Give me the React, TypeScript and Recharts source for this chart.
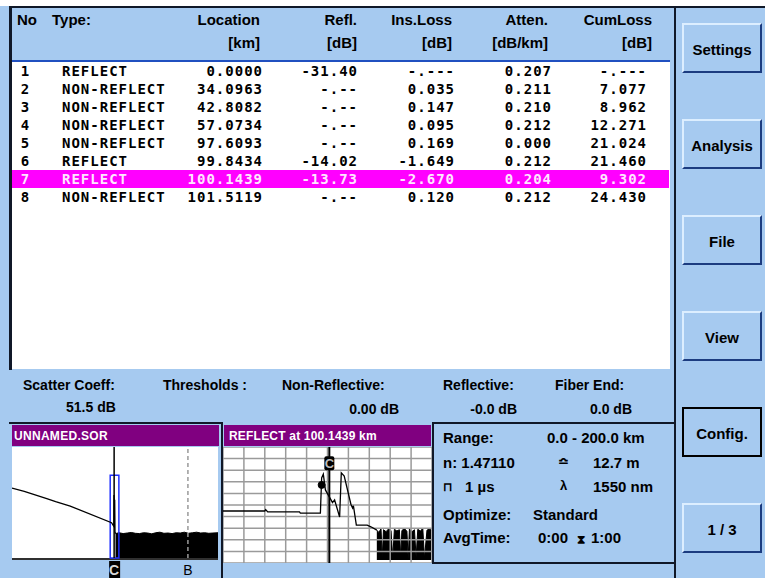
import React from "react";
import {
  Area,
  ComposedChart,
  Line,
  ReferenceArea,
  ReferenceDot,
  ReferenceLine,
  XAxis,
  YAxis,
} from "recharts";

const SKY = "#A6CAF0";
const PURPLE = "#800080";
const UI_FONT = "'Liberation Sans', Arial, sans-serif";
const MONO_FONT = "'DejaVu Sans Mono', monospace";

// event table
const headerTop = ["Location", "Refl.", "Ins.Loss", "Atten.", "CumLoss"];
const headerUnits = ["[km]", "[dB]", "[dB]", "[dB/km]", "[dB]"];
const eventNo = ["1", "2", "3", "4", "5", "6", "7", "8"];
const eventType = [
  "REFLECT",
  "NON-REFLECT",
  "NON-REFLECT",
  "NON-REFLECT",
  "NON-REFLECT",
  "REFLECT",
  "REFLECT",
  "NON-REFLECT",
];
const locationKm = ["0.0000", "34.0963", "42.8082", "57.0734", "97.6093", "99.8434", "100.1439", "101.5119"];
const reflDb = ["-31.40", "-.--", "-.--", "-.--", "-.--", "-14.02", "-13.73", "-.--"];
const insLossDb = ["-.---", "0.035", "0.147", "0.095", "0.169", "-1.649", "-2.670", "0.120"];
const attenDbKm = ["0.207", "0.211", "0.210", "0.212", "0.000", "0.212", "0.204", "0.212"];
const cumLossDb = ["-.---", "7.077", "8.962", "12.271", "21.024", "21.460", "9.302", "24.430"];
const selectedRow = 6;

const buttonLabels = ["Settings", "Analysis", "File", "View", "Config.", "1 / 3"];

// overview trace (0..200 km)
const overviewKm = [0, 12, 34.1, 42.8, 57.1, 97.6, 99.8, 100.0, 100.4, 100.7, 101.0, 101.5];
const overviewDb = [25.2, 24.0, 21.4, 20.3, 18.7, 12.7, 11.4, 22.7, 19.6, 21.0, 9.5, 8.8];
const floorKm = [101.5, 105, 109, 113, 117, 121, 125, 129, 133, 137, 141, 145, 149, 153, 157, 161, 165, 169, 173, 177, 181, 185, 189, 193, 197, 202];
const floorDb = [8.8, 9.1, 8.8, 9.0, 9.2, 8.9, 8.8, 9.1, 9.0, 8.7, 9.1, 9.3, 8.9, 9.0, 8.8, 9.1, 9.0, 9.3, 8.9, 9.1, 9.3, 9.0, 9.1, 8.9, 9.0, 9.1];
const cursorKm = 100.1439;
const markerBKm = 172.5;
const zoomWindowKm = [96.3, 104.8];

// zoomed trace around the selected event
const detailKm = [97.6, 98.6, 98.62, 98.67, 99.43, 99.45, 99.93, 99.96, 100.0, 100.05, 100.18, 100.22, 100.27, 100.39, 100.43, 100.5, 100.66, 100.7, 100.72, 100.79, 101.05, 101.15, 101.28];
const detailDb = [13.45, 13.45, 13.8, 13.2, 13.2, 12.9, 12.9, 22.0, 23.0, 18.9, 16.4, 15.6, 16.3, 11.9, 23.3, 22.5, 15.2, 14.2, 14.8, 9.8, 9.8, 9.3, 8.5];
const noiseKm = [101.28, 101.33, 101.38, 101.41, 101.44, 101.5, 101.56, 101.62, 101.66, 101.7, 101.76, 101.82, 101.85, 101.88, 101.94, 102.0, 102.03, 102.06, 102.12, 102.18, 102.22, 102.26, 102.32, 102.38, 102.42, 102.48, 102.54, 102.58];
const noiseDb = [8.5, 7.9, 8.9, 1.4, 8.6, 8.1, 8.8, 8.4, 1.2, 8.7, 8.3, 8.6, 1.6, 8.4, 8.9, 8.2, 1.1, 8.8, 8.1, 8.6, 1.5, 8.7, 8.3, 8.9, 1.3, 8.5, 8.8, 8.5];
const detailGridKm = [97.6, 98.1, 98.6, 99.1, 99.6, 100.1, 100.6, 101.1, 101.6, 102.1, 102.6];
const detailGridDb = [0, 3, 6, 9, 12, 15, 18, 21, 24, 27, 30];
const firstPeakDot = { km: 99.96, db: 20.2 };
const markerCDb = 25.8;

const overviewData = overviewKm.map((km, i) => ({ km, db: overviewDb[i] }));
const floorData = floorKm.map((km, i) => ({ km, db: floorDb[i] }));
const detailData = detailKm.map((km, i) => ({ km, db: detailDb[i] }));
const noiseData = noiseKm.map((km, i) => ({ km, db: noiseDb[i] }));

type Align = "left" | "right" | "center";

function Label({
  x,
  y,
  text,
  align = "left",
  size = 15,
  color = "#000",
  font = UI_FONT,
  spacing = 0,
}: {
  x: number;
  y: number;
  text: string;
  align?: Align;
  size?: number;
  color?: string;
  font?: string;
  spacing?: number;
}) {
  const w = 300;
  const left = align === "left" ? x : align === "right" ? x - w : x - w / 2;
  return (
    <div
      style={{
        position: "absolute",
        left,
        top: y - size * 0.6,
        width: w,
        height: size * 1.2,
        lineHeight: `${size * 1.2}px`,
        textAlign: align,
        fontSize: size,
        fontFamily: font,
        fontWeight: 700,
        color,
        letterSpacing: spacing,
        whiteSpace: "nowrap",
      }}
    >
      {text}
    </div>
  );
}

function Box({ x, y, w, h, style }: { x: number; y: number; w: number; h: number; style?: React.CSSProperties }) {
  return <div style={{ position: "absolute", left: x, top: y, width: w, height: h, boxSizing: "border-box", ...style }} />;
}

const OverviewTick = (props: any) => {
  const { x, y, payload } = props;
  if (payload.value === cursorKm) {
    return (
      <g>
        <rect x={x - 5} y={y + 3} width={11} height={17} fill="#000" />
        <text x={x} y={y + 17} textAnchor="middle" fontFamily={UI_FONT} fontWeight={700} fontSize={14} fill="#d8d8d8">
          C
        </text>
      </g>
    );
  }
  return (
    <text x={x} y={y + 17} textAnchor="middle" fontFamily={UI_FONT} fontSize={14} fill="#000">
      B
    </text>
  );
};

const MarkerC = (props: any) => {
  const { cx, cy } = props;
  return (
    <g>
      <rect x={cx - 5} y={cy - 7} width={10} height={14} rx={2} fill="#000" />
      <text x={cx} y={cy + 5} textAnchor="middle" fontFamily={UI_FONT} fontWeight={700} fontSize={13} fill="#bbb">
        C
      </text>
    </g>
  );
};

export default function App() {
  const colRight = [263, 358, 455, 552, 647];
  const colValues = [locationKm, reflDb, insLossDb, attenDbKm, cumLossDb];
  const headerRight = [260, 357, 452, 548, 652];

  return (
    <div
      style={{
        position: "absolute",
        left: 0,
        top: 0,
        width: 765,
        height: 578,
        background: SKY,
        overflow: "hidden",
        fontFamily: UI_FONT,
      }}
    >
      {/* top strip and frame */}
      <Box x={0} y={0} w={765} h={6} style={{ background: "#fff" }} />
      <Box x={9} y={6} w={666} h={2} style={{ background: "#101828" }} />
      <Box x={675} y={6} w={90} h={2} style={{ background: "#101828" }} />
      <Box x={9} y={6} w={3} h={364} style={{ background: "#101828" }} />
      <Box x={674} y={6} w={2} h={572} style={{ background: "#101828" }} />

      {/* table header */}
      <Label x={17} y={20} text="No" />
      <Label x={52} y={20} text="Type:" />
      {headerTop.map((t, i) => (
        <Label key={t} x={headerRight[i]} y={20} text={t} align="right" />
      ))}
      {headerUnits.map((t, i) => (
        <Label key={i} x={headerRight[i]} y={43} text={t} align="right" />
      ))}
      <Box x={12} y={60} w={658} h={2} style={{ background: "#2050C0" }} />
      <Box x={12} y={62} w={658} h={307} style={{ background: "#fff" }} />

      {/* table rows */}
      {eventNo.map((no, i) => {
        const y = 71 + 18 * i;
        const sel = i === selectedRow;
        const color = sel ? "#FFE6FF" : "#000";
        return (
          <React.Fragment key={no}>
            {sel && <Box x={12} y={y - 9} w={657} h={18} style={{ background: "#FF00FF" }} />}
            <Label x={25} y={y} text={no} align="center" size={14} font={MONO_FONT} color={color} />
            <Label x={62} y={y} text={eventType[i]} size={14} font={MONO_FONT} color={color} spacing={1.0} />
            {colValues.map((vals, c) => (
              <Label key={c} x={colRight[c]} y={y} text={vals[i]} align="right" size={14} font={MONO_FONT} color={color} spacing={1.0} />
            ))}
          </React.Fragment>
        );
      })}

      {/* thresholds strip */}
      <Label x={23} y={385} text="Scatter Coeff:" size={14} />
      <Label x={66} y={407} text="51.5 dB" size={14} />
      <Label x={163} y={385} text="Thresholds :" size={14} />
      <Label x={282} y={385} text="Non-Reflective:" size={14} />
      <Label x={399} y={409} text="0.00 dB" align="right" size={14} />
      <Label x={443} y={385} text="Reflective:" size={14} />
      <Label x={517} y={409} text="-0.0 dB" align="right" size={14} />
      <Label x={555} y={385} text="Fiber End:" size={14} />
      <Label x={632} y={409} text="0.0 dB" align="right" size={14} />

      {/* overview panel */}
      <Box x={9} y={422} w={214} h={2} style={{ background: "#101828" }} />
      <Box x={221} y={422} w={2} h={156} style={{ background: "#101828" }} />
      <Box x={12} y={425} w={207} h={21} style={{ background: PURPLE }} />
      <Label x={14} y={436} text="UNNAMED.SOR" size={12} color="#fff" spacing={0.3} />
      <Box x={12} y={447} w={206} h={111} style={{ background: "#fff" }} />
      <Box x={12} y={558} w={206} h={2} style={{ background: "#303030" }} />
      <div style={{ position: "absolute", left: 12, top: 447 }}>
        <ComposedChart width={206} height={131} margin={{ top: 0, right: 0, bottom: 0, left: 0 }}>
          <XAxis
            type="number"
            dataKey="km"
            domain={[0, 202]}
            allowDataOverflow
            ticks={[cursorKm, markerBKm]}
            interval={0}
            height={20}
            axisLine={false}
            tickLine={false}
            tickSize={0}
            tickMargin={0}
            tick={<OverviewTick />}
          />
          <YAxis type="number" domain={[0, 40]} hide allowDataOverflow />
          <ReferenceLine x={markerBKm} stroke="#9a9a9a" strokeWidth={1.5} strokeDasharray="4 3" />
          <Area
            data={floorData}
            dataKey="db"
            type="linear"
            baseValue={0}
            fill="#000"
            fillOpacity={1}
            stroke="#000"
            isAnimationActive={false}
          />
          <Line
            data={overviewData}
            dataKey="db"
            type="linear"
            stroke="#000"
            strokeWidth={1.3}
            dot={false}
            isAnimationActive={false}
          />
          <ReferenceLine x={cursorKm} stroke="#000" strokeWidth={1.5} />
          <ReferenceArea
            x1={zoomWindowKm[0]}
            x2={zoomWindowKm[1]}
            y1={0}
            y2={29.8}
            fill="none"
            stroke="#2030FF"
            strokeWidth={1.5}
          />
        </ComposedChart>
      </div>

      {/* detail panel */}
      <Box x={224} y={425} w={207} h={21} style={{ background: PURPLE }} />
      <Label x={229} y={436} text="REFLECT at 100.1439 km" size={12} color="#fff" spacing={0.2} />
      <Box x={223} y={447} w={209} h={116} style={{ background: "#fff" }} />
      <div style={{ position: "absolute", left: 223, top: 447 }}>
        <ComposedChart width={209} height={116} margin={{ top: 0, right: 0, bottom: 0, left: 0 }}>
          <XAxis type="number" dataKey="km" domain={[97.6, 102.6]} hide allowDataOverflow />
          <YAxis type="number" domain={[0, 30]} hide allowDataOverflow />
          {detailGridKm.map((k) => (
            <ReferenceLine key={`v${k}`} x={k} stroke="#9a9a9a" strokeWidth={1.5} />
          ))}
          {detailGridDb.map((d) => (
            <ReferenceLine key={`h${d}`} y={d} stroke="#9a9a9a" strokeWidth={1.5} />
          ))}
          <ReferenceLine x={cursorKm} stroke="#000" strokeWidth={2} />
          <Area
            data={noiseData}
            dataKey="db"
            type="linear"
            baseValue={0.8}
            fill="#000"
            fillOpacity={1}
            stroke="#000"
            isAnimationActive={false}
          />
          <Line
            data={detailData}
            dataKey="db"
            type="linear"
            stroke="#000"
            strokeWidth={1.3}
            dot={false}
            isAnimationActive={false}
          />
          <ReferenceDot x={firstPeakDot.km} y={firstPeakDot.db} r={3.5} fill="#000" stroke="#000" />
          <ReferenceDot x={cursorKm} y={markerCDb} shape={<MarkerC />} />
        </ComposedChart>
      </div>

      {/* settings panel */}
      <Box x={432} y={422} w={244} h={142} style={{ border: "2px solid #101828", background: SKY }} />
      <Label x={443} y={438} text="Range:" />
      <Label x={547} y={438} text="0.0  -  200.0 km" />
      <Label x={443} y={463} text="n:  1.47110" />
      <Label x={558} y={462} text="≏" size={13} />
      <Label x={593} y={463} text="12.7 m" />
      <Label x={443} y={487} text="⊓" size={12} />
      <Label x={465} y={487} text="1 µs" />
      <Label x={560} y={486} text="λ" size={13} />
      <Label x={593} y={487} text="1550 nm" />
      <Label x={443} y={515} text="Optimize:" />
      <Label x={533} y={515} text="Standard" />
      <Label x={443} y={538} text="AvgTime:" />
      <Label x={538} y={538} text="0:00" />
      <Label x={577} y={539} text="⧗" size={12} />
      <Label x={591} y={538} text="1:00" />

      {/* side buttons */}
      {buttonLabels.map((b, i) => {
        const cy = 48 + 96 * i;
        const focused = b === "Config.";
        return (
          <React.Fragment key={b}>
            <Box
              x={682}
              y={cy - 25}
              w={80}
              h={50}
              style={
                focused
                  ? { border: "2px solid #000", background: SKY }
                  : {
                      background: SKY,
                      borderTop: "2px solid #DCEEFF",
                      borderLeft: "2px solid #DCEEFF",
                      borderBottom: "2px solid #1C3C80",
                      borderRight: "2px solid #1C3C80",
                    }
              }
            />
            <Label x={722} y={cy + 2} text={b} align="center" />
          </React.Fragment>
        );
      })}
    </div>
  );
}
